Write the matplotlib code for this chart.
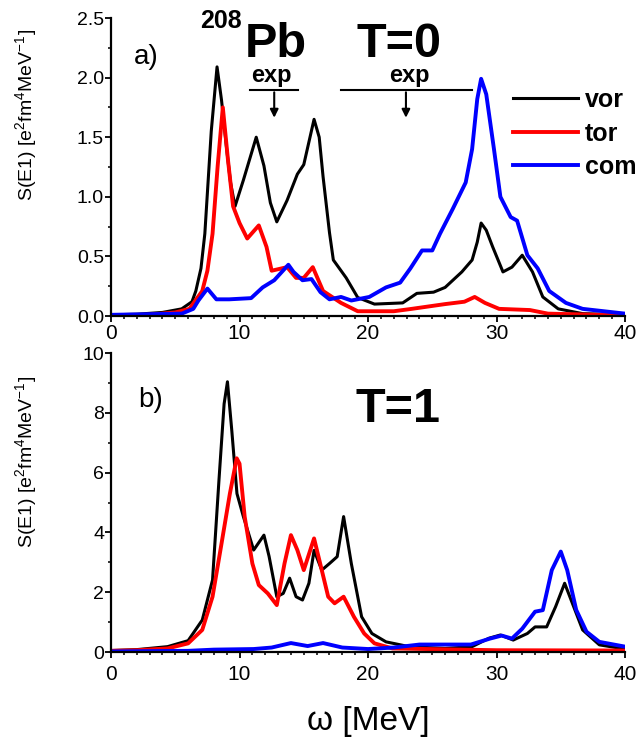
import matplotlib
matplotlib.use('Agg')
import matplotlib.pyplot as plt
from matplotlib.ticker import MultipleLocator, FormatStrFormatter

plt.rcParams['font.family'] = ['Liberation Sans', 'DejaVu Sans']
plt.rcParams['mathtext.fontset'] = 'custom'
plt.rcParams['mathtext.rm'] = 'Liberation Sans'
plt.rcParams['mathtext.it'] = 'Liberation Sans:italic'
plt.rcParams['mathtext.bf'] = 'Liberation Sans:bold'

# ---- panel a) T=0 ----
e_vor_t0 = [0, 2, 4, 5.5, 6.3, 6.6, 7.0, 7.3, 7.8, 8.25, 8.6, 9.0, 9.3, 9.65, 10.3, 10.8, 11.3,
            11.9, 12.4, 12.9, 13.7, 14.5, 15.0, 15.8, 16.2, 16.5, 17.0, 17.3, 18.3, 19.2, 20.5,
            22.7, 23.8, 25.1, 26.0, 27.3, 28.1, 28.5, 28.8, 29.2, 29.7, 30.5, 31.2, 32.0, 32.8,
            33.6, 34.8, 36.7, 40]
s_vor_t0 = [0.01, 0.015, 0.03, 0.06, 0.12, 0.21, 0.40, 0.69, 1.55, 2.09, 1.81, 1.40, 1.12, 0.92,
            1.14, 1.32, 1.50, 1.26, 0.95, 0.79, 0.97, 1.19, 1.27, 1.65, 1.50, 1.17, 0.70, 0.47,
            0.32, 0.155, 0.10, 0.11, 0.19, 0.20, 0.24, 0.37, 0.47, 0.62, 0.78, 0.72, 0.58, 0.37,
            0.41, 0.51, 0.37, 0.16, 0.06, 0.02, 0.01]

e_tor_t0 = [0, 3, 5, 6.1, 7.1, 7.5, 7.9, 8.3, 8.7, 9.1, 9.5, 10.0, 10.6, 11.5, 12.1, 12.5, 13.7,
            14.4, 15.0, 15.7, 16.5, 17.9, 19.2, 22, 23.4, 26, 27.5, 28.3, 29.1, 30.2, 32.6, 34, 40]
s_tor_t0 = [0.005, 0.01, 0.03, 0.06, 0.21, 0.38, 0.69, 1.26, 1.75, 1.31, 0.92, 0.78, 0.65, 0.76,
            0.58, 0.38, 0.41, 0.32, 0.32, 0.41, 0.21, 0.11, 0.04, 0.04, 0.06, 0.10, 0.12, 0.16,
            0.11, 0.06, 0.05, 0.02, 0.005]

e_com_t0 = [0, 5.5, 6.4, 6.8, 7.5, 8.2, 9.2, 10.9, 11.8, 12.7, 13.8, 14.2, 14.9, 15.6, 16.3,
            17.0, 17.9, 18.7, 20.1, 21.4, 22.5, 23.3, 24.2, 25.0, 25.6, 26.6, 27.6, 28.1, 28.5,
            28.8, 29.2, 29.8, 30.3, 31.1, 31.6, 32.4, 33.2, 34.1, 35.4, 36.7, 40]
s_com_t0 = [0.01, 0.02, 0.06, 0.13, 0.23, 0.14, 0.14, 0.15, 0.24, 0.30, 0.43, 0.37, 0.30, 0.31,
            0.20, 0.14, 0.16, 0.13, 0.16, 0.24, 0.28, 0.40, 0.55, 0.55, 0.69, 0.90, 1.12, 1.40,
            1.82, 1.99, 1.86, 1.40, 1.00, 0.83, 0.80, 0.51, 0.40, 0.21, 0.11, 0.06, 0.02]

# ---- panel b) T=1 ----
e_vor_t1 = [0, 2, 4.4, 6.0, 7.1, 7.9, 8.4, 8.8, 9.06, 9.4, 9.8, 10.3, 11.1, 11.9, 12.3, 12.9,
            13.4, 13.9, 14.4, 14.9, 15.4, 15.8, 16.4, 17.0, 17.6, 18.1, 18.7, 19.5, 20.3, 21.4,
            23.2, 26.0, 28.1, 29.4, 30.3, 31.3, 32.4, 33.0, 33.9, 34.6, 35.3, 36.0, 36.7, 38.0, 40]
s_vor_t1 = [0.05, 0.08, 0.18, 0.38, 1.07, 2.41, 5.75, 8.3, 9.04, 7.4, 5.3, 4.53, 3.41, 3.91, 3.2,
            1.85, 1.96, 2.47, 1.85, 1.74, 2.3, 3.4, 2.74, 2.96, 3.19, 4.53, 2.96, 1.18, 0.62,
            0.34, 0.18, 0.12, 0.18, 0.46, 0.57, 0.40, 0.62, 0.84, 0.84, 1.52, 2.30, 1.52, 0.74,
            0.24, 0.10]

e_tor_t1 = [0, 2, 4.4, 6.0, 7.1, 7.9, 8.6, 9.25, 9.78, 10.0, 10.4, 11.0, 11.5, 12.2, 12.9, 13.5,
            14.0, 14.5, 15.0, 15.8, 16.4, 16.9, 17.4, 18.1, 18.9, 19.7, 20.5, 21.9, 24.6, 30, 40]
s_tor_t1 = [0.04, 0.06, 0.12, 0.29, 0.74, 1.85, 3.63, 5.3, 6.48, 6.3, 4.53, 2.96, 2.24, 1.96,
            1.57, 2.96, 3.91, 3.41, 2.74, 3.8, 2.74, 1.85, 1.63, 1.85, 1.18, 0.62, 0.29, 0.12,
            0.10, 0.06, 0.05]

e_com_t1 = [0, 6, 8, 11.1, 12.5, 14.0, 15.3, 16.5, 18.0, 20.0, 22.0, 24.0, 28.0, 29.5, 30.4,
            31.2, 32.0, 33.0, 33.6, 34.3, 35.0, 35.5, 36.2, 37.0, 38.0, 40]
s_com_t1 = [0.02, 0.04, 0.08, 0.10, 0.15, 0.30, 0.20, 0.30, 0.15, 0.10, 0.15, 0.25, 0.25, 0.45,
            0.55, 0.45, 0.78, 1.35, 1.40, 2.74, 3.36, 2.74, 1.41, 0.68, 0.34, 0.18]

series_names = ['vor', 'tor', 'com']
series_colors = ['black', 'red', 'blue']
series_widths = [2.2, 2.8, 2.8]

fig = plt.figure(figsize=(6.41, 7.38), dpi=100)
ax1 = fig.add_axes([0.1732, 0.5718, 0.8019, 0.4038])
ax2 = fig.add_axes([0.1732, 0.1165, 0.8019, 0.4051])

curves_t0 = [(e_vor_t0, s_vor_t0), (e_tor_t0, s_tor_t0), (e_com_t0, s_com_t0)]
curves_t1 = [(e_vor_t1, s_vor_t1), (e_tor_t1, s_tor_t1), (e_com_t1, s_com_t1)]

for ax, curves in [(ax1, curves_t0), (ax2, curves_t1)]:
    for (e, s), name, c, lw in zip(curves, series_names, series_colors, series_widths):
        ax.plot(e, s, color=c, lw=lw, label=name, solid_joinstyle='round')
    ax.spines['top'].set_visible(False)
    ax.spines['right'].set_visible(False)
    ax.spines['left'].set_linewidth(1.6)
    ax.spines['bottom'].set_linewidth(1.6)
    ax.set_xlim(0, 40)
    ax.xaxis.set_major_locator(MultipleLocator(10))
    ax.xaxis.set_minor_locator(MultipleLocator(1))
    ax.tick_params(which='major', direction='out', length=4, width=1.3)
    ax.tick_params(which='minor', direction='out', length=2.5, width=1.1)
    ax.tick_params(axis='y', labelsize=14, pad=1)
    ax.set_ylabel('S(E1) [e$^2$fm$^4$MeV$^{-1}$]', fontsize=14)

ax1.tick_params(axis='x', labelsize=15, pad=2)
ax2.tick_params(axis='x', labelsize=15, pad=5)

ax1.set_ylim(0, 2.5)
ax1.yaxis.set_major_locator(MultipleLocator(0.5))
ax1.yaxis.set_minor_locator(MultipleLocator(0.25))
ax1.yaxis.set_major_formatter(FormatStrFormatter('%.1f'))
ax1.yaxis.set_label_coords(-0.14, 0.674)

ax2.set_ylim(0, 10)
ax2.yaxis.set_major_locator(MultipleLocator(2))
ax2.yaxis.set_minor_locator(MultipleLocator(1))
ax2.yaxis.set_label_coords(-0.14, 0.635)
ax2.set_xlabel('ω [MeV]', fontsize=24, labelpad=16)

# annotations, panel a
ax1.text(1.8, 2.17, 'a)', fontsize=20, ha='left', va='center')
ax1.text(10.2, 2.415, '208', fontsize=18, fontweight='bold', ha='right', va='baseline')
ax1.text(10.4, 2.17, 'Pb', fontsize=35, fontweight='bold', ha='left', va='baseline')
ax1.text(19.1, 2.17, 'T=0', fontsize=35, fontweight='bold', ha='left', va='baseline')

exp_marks = [(10.8, 14.55, 12.7), (17.9, 28.1, 22.95)]
exp_text_x = [12.45, 23.2]
for (x0, x1, xa), xt in zip(exp_marks, exp_text_x):
    ax1.plot([x0, x1], [1.9, 1.9], color='black', lw=1.5)
    ax1.annotate('', xy=(xa, 1.64), xytext=(xa, 1.9),
                 arrowprops=dict(arrowstyle='-|>', color='black', lw=1.5, mutation_scale=12))
    ax1.text(xt, 1.96, 'exp', fontsize=17, fontweight='bold', ha='center', va='baseline')

ax1.legend(loc='upper left', bbox_to_anchor=(0.782, 0.765), frameon=False,
           prop=dict(weight='bold', size=18), handlelength=2.6, handletextpad=0.28,
           labelspacing=0.38, borderpad=0, borderaxespad=0)

# annotations, panel b
ax2.text(2.1, 8.43, 'b)', fontsize=20, ha='left', va='center')
ax2.text(19.0, 7.69, 'T=1', fontsize=35, fontweight='bold', ha='left', va='baseline')

fig.savefig('out.png', dpi=100)
